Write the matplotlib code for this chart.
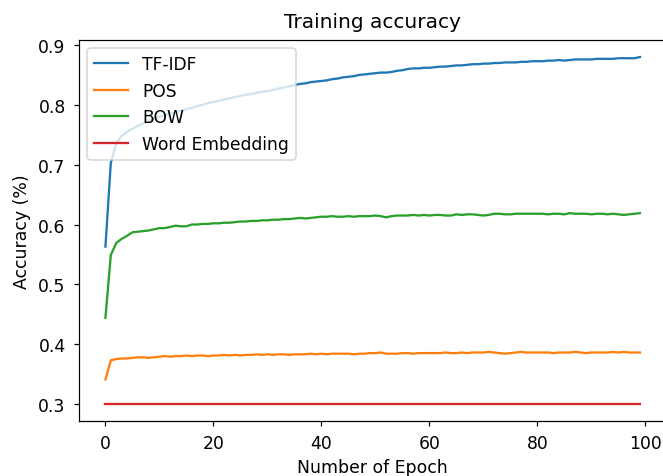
"""
Training accuracy per epoch for four text representations.
"""

import matplotlib
matplotlib.use("Agg")
import matplotlib.pyplot as plt
import numpy as np

# values, one per epoch (0..99)
tfidf_acc = [
    0.563, 0.703, 0.736, 0.748, 0.755, 0.760, 0.765, 0.769, 0.773, 0.777,
    0.780, 0.783, 0.785, 0.788, 0.790, 0.793, 0.795, 0.798, 0.800, 0.803,
    0.805, 0.807, 0.809, 0.811, 0.813, 0.815, 0.817, 0.818, 0.820, 0.822,
    0.823, 0.825, 0.827, 0.829, 0.831, 0.833, 0.835, 0.836, 0.838, 0.839,
    0.840, 0.841, 0.843, 0.844, 0.846, 0.847, 0.848, 0.850, 0.851, 0.852,
    0.853, 0.854, 0.854, 0.855, 0.857, 0.858, 0.860, 0.861, 0.861, 0.862,
    0.862, 0.863, 0.864, 0.864, 0.865, 0.866, 0.866, 0.867, 0.868, 0.868,
    0.869, 0.869, 0.870, 0.870, 0.871, 0.871, 0.871, 0.872, 0.872, 0.873,
    0.873, 0.873, 0.874, 0.874, 0.875, 0.874, 0.875, 0.876, 0.876, 0.876,
    0.876, 0.877, 0.877, 0.877, 0.877, 0.878, 0.878, 0.878, 0.878, 0.880,
]
pos_acc = [
    0.341, 0.373, 0.375, 0.376, 0.376, 0.377, 0.378, 0.378, 0.377, 0.378,
    0.379, 0.380, 0.379, 0.380, 0.380, 0.381, 0.380, 0.381, 0.381, 0.380,
    0.381, 0.381, 0.382, 0.381, 0.382, 0.381, 0.382, 0.382, 0.383, 0.382,
    0.383, 0.382, 0.383, 0.383, 0.382, 0.383, 0.383, 0.383, 0.384, 0.383,
    0.384, 0.383, 0.384, 0.384, 0.384, 0.384, 0.383, 0.384, 0.384, 0.385,
    0.385, 0.386, 0.384, 0.384, 0.384, 0.385, 0.385, 0.384, 0.385, 0.385,
    0.385, 0.385, 0.385, 0.386, 0.385, 0.385, 0.386, 0.385, 0.386, 0.386,
    0.386, 0.387, 0.386, 0.385, 0.384, 0.385, 0.386, 0.387, 0.386, 0.386,
    0.386, 0.386, 0.386, 0.385, 0.386, 0.386, 0.386, 0.387, 0.386, 0.385,
    0.386, 0.386, 0.386, 0.386, 0.387, 0.386, 0.387, 0.386, 0.386, 0.386,
]
bow_acc = [
    0.444, 0.549, 0.569, 0.576, 0.581, 0.587, 0.588, 0.589, 0.590, 0.592,
    0.594, 0.594, 0.596, 0.598, 0.597, 0.597, 0.600, 0.600, 0.601, 0.601,
    0.602, 0.602, 0.603, 0.603, 0.604, 0.605, 0.605, 0.606, 0.606, 0.607,
    0.607, 0.608, 0.608, 0.609, 0.609, 0.610, 0.611, 0.610, 0.611, 0.612,
    0.613, 0.613, 0.614, 0.613, 0.613, 0.614, 0.613, 0.614, 0.614, 0.614,
    0.615, 0.614, 0.612, 0.614, 0.615, 0.615, 0.615, 0.616, 0.615, 0.616,
    0.615, 0.616, 0.616, 0.615, 0.615, 0.617, 0.616, 0.617, 0.617, 0.616,
    0.615, 0.616, 0.618, 0.618, 0.617, 0.617, 0.618, 0.618, 0.618, 0.618,
    0.618, 0.618, 0.617, 0.618, 0.618, 0.617, 0.619, 0.618, 0.618, 0.618,
    0.617, 0.618, 0.618, 0.617, 0.618, 0.617, 0.616, 0.617, 0.618, 0.619,
]
emb_acc = [
    0.300, 0.300, 0.300, 0.300, 0.300, 0.300, 0.300, 0.300, 0.300, 0.300,
    0.300, 0.300, 0.300, 0.300, 0.300, 0.300, 0.300, 0.300, 0.300, 0.300,
    0.300, 0.300, 0.300, 0.300, 0.300, 0.300, 0.300, 0.300, 0.300, 0.300,
    0.300, 0.300, 0.300, 0.300, 0.300, 0.300, 0.300, 0.300, 0.300, 0.300,
    0.300, 0.300, 0.300, 0.300, 0.300, 0.300, 0.300, 0.300, 0.300, 0.300,
    0.300, 0.300, 0.300, 0.300, 0.300, 0.300, 0.300, 0.300, 0.300, 0.300,
    0.300, 0.300, 0.300, 0.300, 0.300, 0.300, 0.300, 0.300, 0.300, 0.300,
    0.300, 0.300, 0.300, 0.300, 0.300, 0.300, 0.300, 0.300, 0.300, 0.300,
    0.300, 0.300, 0.300, 0.300, 0.300, 0.300, 0.300, 0.300, 0.300, 0.300,
    0.300, 0.300, 0.300, 0.300, 0.300, 0.300, 0.300, 0.300, 0.300, 0.300,
]
series_names = ["TF-IDF", "POS", "BOW", "Word Embedding"]

DPI = 110
fig = plt.figure(figsize=(663 / DPI, 477 / DPI), dpi=DPI)
fig.patch.set_facecolor("white")
# axes run slightly past the right edge, as in the cropped reference
ax = fig.add_axes([0.1187, 0.1147, 0.8869, 0.8000])

epochs = np.arange(len(tfidf_acc))
for name, acc in zip(series_names, [tfidf_acc, pos_acc, bow_acc, emb_acc]):
    ax.plot(epochs, acc, label=name)

ax.set_title("Training accuracy", fontsize=13.2, pad=8)
ax.set_xlabel("Number of Epoch", fontsize=11.3, labelpad=4)
ax.set_ylabel("Accuracy (%)", fontsize=11.3, labelpad=5)
ax.tick_params(labelsize=11.3, pad=5)
ax.legend(loc="upper left", fontsize=11.2)

fig.savefig("out.png", dpi=DPI)
